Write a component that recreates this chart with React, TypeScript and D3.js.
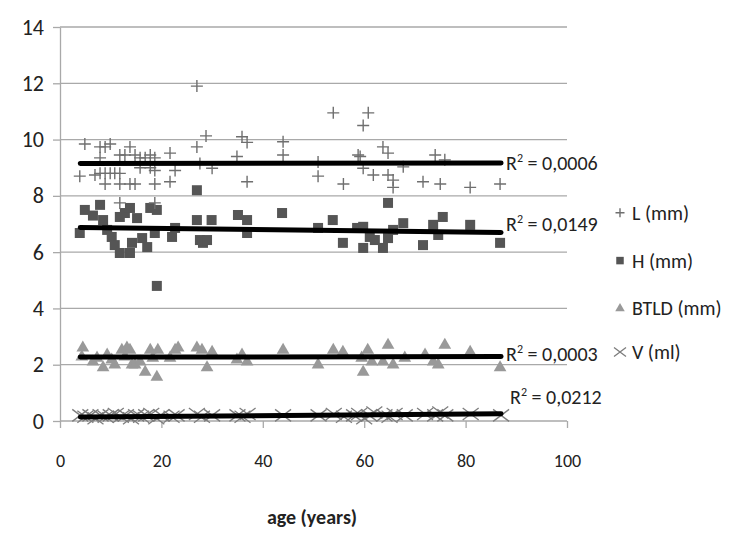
import {useEffect, useRef} from "react";
import * as d3 from "d3";

const lPoints: [number, number][] = [
  [3.9, 8.7], [4.9, 9.84], [6.9, 8.74], [7.9, 9.74], [7.9, 9.35], [8.9, 9.74], [9.9, 9.84],
  [7.9, 8.8], [8.9, 8.8], [9.9, 8.8], [10.8, 8.8], [11.8, 8.8],
  [8.9, 8.42], [11.8, 8.42], [13.8, 8.42], [14.8, 8.42], [18.7, 8.42],
  [11.8, 9.45], [12.8, 9.45], [13.8, 9.74], [14.8, 9.45], [15.8, 9.35], [16.8, 9.35], [17.8, 9.45], [18.7, 9.35],
  [11.8, 7.75], [18.7, 7.75], [15.8, 9.0], [17.8, 9.0], [18.7, 8.9],
  [21.7, 9.52], [21.7, 8.5], [22.7, 8.9], [27, 11.9], [27, 9.74], [27.6, 9.15], [28.8, 10.13], [30, 8.98],
  [34.9, 9.4], [35.9, 10.1], [36.9, 9.9], [36.9, 8.5], [44, 9.92], [44, 9.45], [50.9, 9.2], [50.9, 8.7],
  [53.9, 10.95], [55.9, 8.42], [58.8, 9.45], [59.8, 10.5], [60.8, 10.95], [59.8, 8.98],
  [59.2, 9.4], [61.8, 8.74], [63.7, 9.74], [64.7, 9.52], [64.7, 8.74], [65.7, 8.56], [65.7, 8.3],
  [67.7, 9.03], [71.6, 8.5], [74, 9.45], [75, 8.42], [75.9, 9.28], [80.9, 8.3], [86.8, 8.42]
];

const hPoints: [number, number][] = [
  [3.9, 6.68], [4.9, 7.5], [6.5, 7.3], [7.9, 7.68], [8.5, 7.14], [9.3, 6.79], [10.2, 6.54], [10.8, 6.25],
  [11.8, 5.97], [11.8, 7.25], [12.8, 7.39], [13.8, 7.57], [13.8, 5.97], [14.2, 6.33], [15.2, 7.21],
  [16.2, 6.5], [17.2, 6.18], [17.8, 7.57], [19.1, 7.5], [18.7, 6.68], [19.1, 4.8], [22.1, 6.54], [22.7, 6.86],
  [27, 7.14], [27, 8.2], [27.6, 6.43], [28.2, 6.33], [29, 6.43], [29.9, 7.14], [35.1, 7.32], [36.9, 7.14],
  [36.9, 6.68], [43.8, 7.39], [50.9, 6.86], [53.8, 7.14], [55.8, 6.33], [58.6, 6.86], [59.8, 6.9],
  [59.8, 6.15], [61.1, 6.54], [62.1, 6.43], [63.7, 6.15], [64.7, 7.75], [64.7, 6.5], [65.7, 6.79],
  [67.7, 7.03], [71.6, 6.25], [73.6, 6.97], [74.6, 6.61], [75.5, 7.25], [80.9, 6.97], [86.8, 6.33]
];

const btldPoints: [number, number][] = [
  [4.5, 2.6], [4.3, 2.28], [6.5, 2.1], [7.3, 2.24], [8.5, 1.9], [9.3, 2.35], [10.2, 2.17], [10.8, 2.0],
  [12.2, 2.52], [12.8, 2.28], [13.2, 2.6], [13.8, 2.52], [14.2, 2.0], [14.8, 2.0], [15.8, 2.1], [16.8, 1.74],
  [17.8, 2.52], [18.3, 2.24], [19.1, 1.56], [19.3, 2.52], [21.7, 2.24], [22.7, 2.52], [23.3, 2.6],
  [27, 2.6], [28, 2.52], [29, 1.9], [30, 2.45], [34.9, 2.17], [35.9, 2.35], [36.9, 2.1], [44, 2.52],
  [50.9, 2.0], [53.9, 2.52], [55.8, 2.45], [59.8, 1.74], [59.5, 2.24], [60.7, 2.52], [61.5, 2.1],
  [63.7, 2.1], [64.7, 2.7], [65.7, 2.0], [68, 2.24], [72, 2.35], [73.6, 2.1], [74.6, 2.0], [75.9, 2.7],
  [80.9, 2.45], [86.8, 1.9]
];

const vPoints: [number, number][] = [
  [4, 0.2], [5, 0.15], [6, 0.2], [7, 0.1], [8, 0.2], [9, 0.15], [10, 0.2], [11, 0.25], [12, 0.15],
  [13, 0.2], [14, 0.1], [15, 0.2], [16, 0.15], [17, 0.2], [18, 0.25], [19, 0.1], [20, 0.2], [22, 0.15],
  [23, 0.2], [27, 0.25], [28, 0.15], [30, 0.2], [35, 0.2], [36, 0.15], [37, 0.25], [44, 0.2], [51, 0.2],
  [54, 0.25], [56, 0.15], [58, 0.2], [59, 0.25], [60, 0.1], [61, 0.2], [62, 0.3], [64, 0.2], [65, 0.15],
  [66, 0.25], [68, 0.2], [72, 0.25], [74, 0.2], [75, 0.3], [76, 0.2], [81, 0.25], [87, 0.2]
];

// linear trend lines: value at first and last age
const trendAges = [4, 87];
const trendStart = [9.15, 6.88, 2.27, 0.14];
const trendEnd = [9.17, 6.7, 2.29, 0.26];
const r2Labels = ["0,0006", "0,0149", "0,0003", "0,0212"];
const r2Offsets = [0, 0.3, 0.1, 0.6]; // value units above trend end

const legendNames = ["L (mm)", "H (mm)", "BTLD (mm)", "V (ml)"];
const legendValues = [7.4, 5.7, 4.0, 2.45];

const yTicks = [0, 2, 4, 6, 8, 10, 12, 14];
const xTicks = [0, 20, 40, 60, 80, 100];

const FONT = "Carlito, Lato, 'Open Sans', sans-serif";

const drawMarker = (g: any, kind: number, x: number, y: number, s = 1) => {
  if (kind === 0) {
    const a = 6 * s;
    g.append("path").attr("d", `M${x - a},${y}H${x + a}M${x},${y - a}V${y + a}`)
      .attr("stroke", "#6f6f6f").attr("stroke-width", 1.4).attr("fill", "none");
  } else if (kind === 1) {
    const a = 5 * s;
    g.append("rect").attr("x", x - a).attr("y", y - a).attr("width", 2 * a).attr("height", 2 * a)
      .attr("fill", "#555");
  } else if (kind === 2) {
    g.append("path").attr("d", d3.symbol().type(d3.symbolTriangle).size(70 * s * s)())
      .attr("transform", `translate(${x},${y})`).attr("fill", "#999");
  } else {
    const a = 8 * s, b = 6 * s;
    g.append("path").attr("d", `M${x - a},${y - b}L${x + a},${y + b}M${x - a},${y + b}L${x + a},${y - b}`)
      .attr("stroke", "#7d7d7d").attr("stroke-width", 1.3).attr("fill", "none");
  }
};

const App = () => {
  const ref = useRef<SVGSVGElement>(null);

  useEffect(() => {
    const svg = d3.select(ref.current);
    svg.selectAll("*").remove();

    const x = d3.scaleLinear().domain([0, 100]).range([60, 567]);
    const y = d3.scaleLinear().domain([0, 14]).range([421, 27]);

    // gridlines
    svg.append("g").selectAll("line").data(yTicks).join("line")
      .attr("x1", x(0)).attr("x2", x(100))
      .attr("y1", d => y(d)).attr("y2", d => y(d))
      .attr("stroke", "#a9a9a9").attr("stroke-width", 1.3);

    const yAxis = svg.append("g").attr("transform", `translate(${x(0)},0)`)
      .call(d3.axisLeft(y).tickValues(yTicks).tickSize(7).tickSizeOuter(0).tickPadding(9));
    const xAxis = svg.append("g").attr("transform", `translate(0,${y(0)})`)
      .call(d3.axisBottom(x).tickValues(xTicks).tickSize(7).tickSizeOuter(0).tickPadding(26)
        .tickFormat(d => String(d)));
    [yAxis, xAxis].forEach(a => {
      a.selectAll("path, line").attr("stroke", "#a9a9a9").attr("stroke-width", 1.3);
      a.selectAll("text").attr("fill", "#222").attr("font-family", FONT);
    });
    yAxis.selectAll("text").attr("font-size", 22);
    xAxis.selectAll("text").attr("font-size", 18);
    xAxis.select(".domain").remove();

    const series = [lPoints, hPoints, btldPoints, vPoints];
    // draw back to front so V and BTLD sit beneath
    [3, 2, 1, 0].forEach(k => {
      const g = svg.append("g");
      series[k].forEach(([a, v]) => drawMarker(g, k, x(a), y(v)));
    });

    // trend lines and R² labels
    series.forEach((_, k) => {
      svg.append("line")
        .attr("x1", x(trendAges[0])).attr("x2", x(trendAges[1]))
        .attr("y1", y(trendStart[k])).attr("y2", y(trendEnd[k]))
        .attr("stroke", "#000").attr("stroke-width", 5).attr("stroke-linecap", "round");
      const t = svg.append("text")
        .attr("x", x(trendAges[1]) + 5 + (k === 3 ? 4 : 0))
        .attr("y", y(trendEnd[k] + r2Offsets[k]) + 7)
        .attr("font-family", FONT).attr("font-size", 20).attr("fill", "#222");
      t.append("tspan").text("R");
      t.append("tspan").text("2").attr("font-size", 12).attr("dy", -8);
      t.append("tspan").text(` = ${r2Labels[k]}`).attr("dy", 8);
    });

    // legend
    legendNames.forEach((name, k) => {
      const ly = y(legendValues[k]);
      const g = svg.append("g");
      drawMarker(g, k, 620, ly, 0.75);
      g.append("text").attr("x", 632).attr("y", ly + 7)
        .attr("font-family", FONT).attr("font-size", 20).attr("fill", "#222").text(name);
    });

    svg.append("text").attr("x", 312).attr("y", 524).attr("text-anchor", "middle")
      .attr("font-family", FONT).attr("font-size", 20).attr("font-weight", "bold")
      .attr("fill", "#222").text("age (years)");
  }, []);

  return (
    <svg ref={ref} width={742} height={555}
      style={{position: "absolute", left: 0, top: 0, background: "#fff"}} />
  );
};

export default App;
